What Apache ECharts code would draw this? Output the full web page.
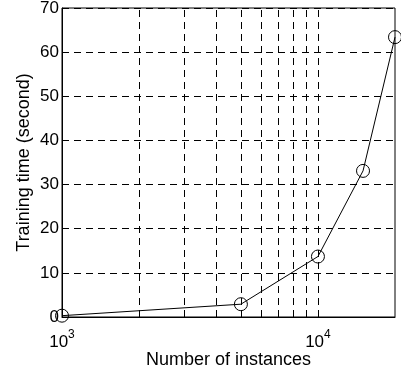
<!DOCTYPE html>
<html>
<head>
<meta charset="utf-8">
<script src="https://cdn.jsdelivr.net/npm/echarts@6/dist/echarts.min.js"></script>
<style>
  html, body { margin: 0; padding: 0; background: #fff; }
  #chart { width: 401px; height: 370px; }
</style>
</head>
<body>
<div id="chart"></div>
<script>
"use strict";

// data
const instances = [1000, 5000, 10000, 15000, 20000];
const trainTime = [0.3, 2.9, 13.7, 33.1, 63.4];
const yTicks = [0, 10, 20, 30, 40, 50, 60, 70];
const xGridLines = [2000, 3000, 4000, 5000, 6000, 7000, 8000, 9000, 10000];

var chartElem = document.getElementById('chart');
var chart = echarts.init(chartElem);

var fontFam = 'Liberation Sans, Arial, sans-serif';

chart.setOption({
  animation: false,
  textStyle: { fontFamily: fontFam },
  grid: {
    left: 62,
    right: 6,
    top: 8,
    bottom: 53,
    outerBoundsMode: 'none',
    show: true,
    borderColor: '#000',
    borderWidth: 1,
    backgroundColor: 'transparent'
  },
  xAxis: {
    type: 'log',
    logBase: 10,
    min: 1000,
    max: 20000,
    name: 'Number of instances',
    nameLocation: 'middle',
    nameGap: 34,
    nameMoveOverlap: false,
    nameTextStyle: { color: '#000', fontSize: 18, fontFamily: fontFam },
    axisLine: { show: true, lineStyle: { color: '#000', width: 1 } },
    axisTick: { show: false },
    splitLine: { show: false },
    axisLabel: {
      color: '#000',
      fontSize: 17,
      margin: 12,
      showMaxLabel: false,
      formatter: function (v) {
        var e = Math.round(Math.log10(v));
        if (Math.abs(Math.pow(10, e) - v) > 1e-6 * v) return '';
        return '{b|10}{sup|' + e + '}';
      },
      rich: {
        b: { fontSize: 17, color: '#000', verticalAlign: 'bottom' },
        sup: { fontSize: 12, color: '#000', verticalAlign: 'top', padding: [0, 0, 10, 0] }
      }
    }
  },
  yAxis: {
    type: 'value',
    min: 0,
    max: 70,
    interval: 10,
    name: 'Training time (second)',
    nameLocation: 'middle',
    nameGap: 29,
    nameMoveOverlap: false,
    nameTextStyle: { color: '#000', fontSize: 18, fontFamily: fontFam },
    axisLine: { show: true, lineStyle: { color: '#000', width: 1 } },
    axisTick: { show: true, inside: true, length: 4, lineStyle: { color: '#000' } },
    axisLabel: {
      color: '#000',
      fontSize: 17,
      margin: 3,
      formatter: function (v) { return yTicks.indexOf(v) >= 0 ? String(v) : ''; }
    },
    splitLine: {
      show: true,
      lineStyle: { color: '#000', width: 1, type: [7, 5] }
    }
  },
  series: [{
    type: 'line',
    data: instances.map(function (x, i) { return [x, trainTime[i]]; }),
    symbol: 'circle',
    symbolSize: 13,
    showAllSymbol: true,
    lineStyle: { color: '#000', width: 1 },
    itemStyle: { color: 'transparent', borderColor: '#000', borderWidth: 1 },
    z: 5,
    markLine: {
      silent: true,
      symbol: 'none',
      label: { show: false },
      lineStyle: { color: '#000', width: 1, type: [7, 5] },
      data: xGridLines.map(function (x) { return { xAxis: x }; }),
      z: 1
    }
  }]
});
</script>
</body>
</html>
